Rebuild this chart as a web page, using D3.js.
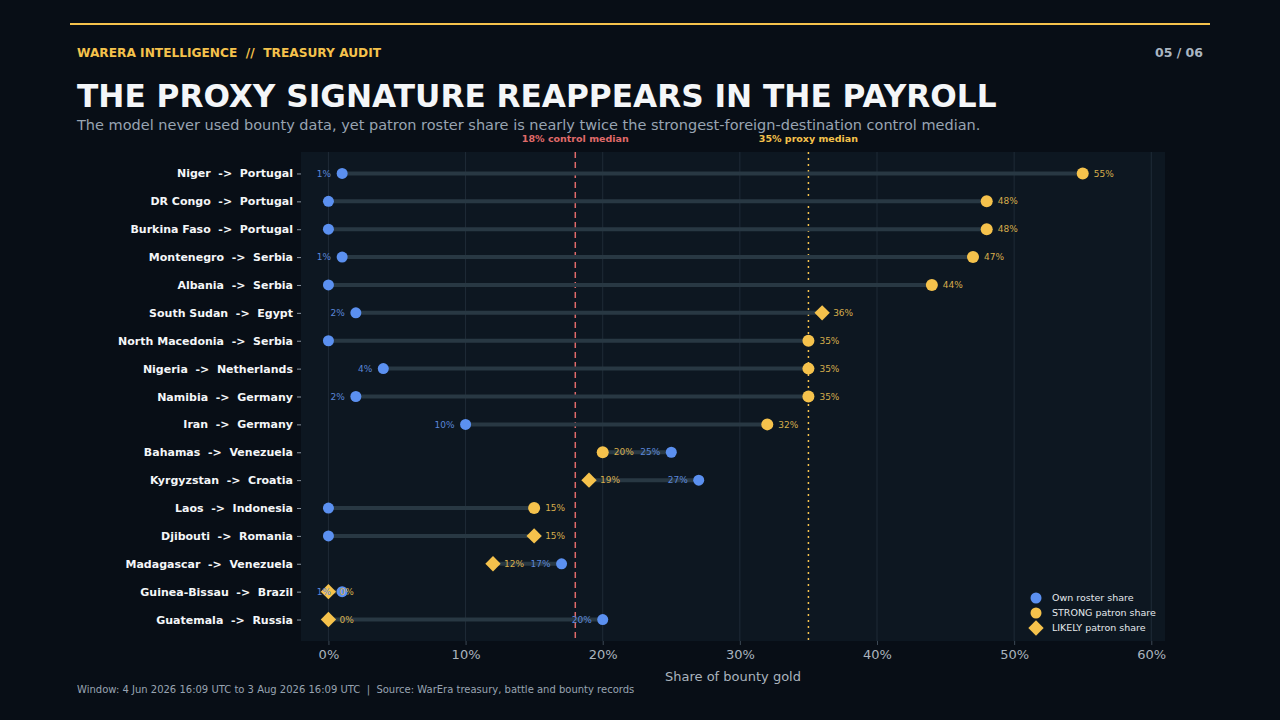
<!DOCTYPE html>
<html>
<head>
<meta charset="utf-8">
<script src="https://cdn.jsdelivr.net/npm/d3@7"></script>
<style>
  body { margin: 0; background: #080e16; }
  svg text { font-family: "DejaVu Sans", sans-serif; white-space: pre; }
</style>
</head>
<body>
<svg id="chart" width="1280" height="720"></svg>
<script>
/* data */
var routes = ["Niger  ->  Portugal", "DR Congo  ->  Portugal", "Burkina Faso  ->  Portugal",
  "Montenegro  ->  Serbia", "Albania  ->  Serbia", "South Sudan  ->  Egypt",
  "North Macedonia  ->  Serbia", "Nigeria  ->  Netherlands", "Namibia  ->  Germany",
  "Iran  ->  Germany", "Bahamas  ->  Venezuela", "Kyrgyzstan  ->  Croatia",
  "Laos  ->  Indonesia", "Djibouti  ->  Romania", "Madagascar  ->  Venezuela",
  "Guinea-Bissau  ->  Brazil", "Guatemala  ->  Russia"];
var ownShare = [1, 0, 0, 1, 0, 2, 0, 4, 2, 10, 25, 27, 0, 0, 17, 1, 20];
var patronShare = [55, 48, 48, 47, 44, 36, 35, 35, 35, 32, 20, 19, 15, 15, 12, 0, 0];
var patronType = ["STRONG", "STRONG", "STRONG", "STRONG", "STRONG", "LIKELY",
  "STRONG", "STRONG", "STRONG", "STRONG", "STRONG", "LIKELY",
  "STRONG", "LIKELY", "LIKELY", "LIKELY", "LIKELY"];
var xTicks = [0, 10, 20, 30, 40, 50, 60];
var controlMedian = 18, proxyMedian = 35;

var rows = routes.map(function(r, i){
  return { route: r, own: ownShare[i], patron: patronShare[i], type: patronType[i] };
});

var blue = "#5b90f0", gold = "#f5c24c", red = "#e06a6a";

var svg = d3.select("#chart");
var margin = { top: 152, left: 301, right: 115, bottom: 79 };
var W = 1280, H = 720;
var innerW = W - margin.left - margin.right, innerH = H - margin.top - margin.bottom;

/* header */
svg.append("line").attr("x1", 70).attr("x2", 1210).attr("y1", 24).attr("y2", 24)
  .attr("stroke", gold).attr("stroke-width", 2);
svg.append("text").attr("x", 77).attr("y", 57).attr("fill", gold)
  .attr("font-size", 12.2).attr("font-weight", "bold")
  .text("WARERA INTELLIGENCE  //  TREASURY AUDIT");
svg.append("text").attr("x", 1203).attr("y", 57).attr("fill", "#aab6c2")
  .attr("font-size", 12.5).attr("font-weight", "bold").attr("text-anchor", "end")
  .text("05 / 06");
svg.append("text").attr("x", 77).attr("y", 107).attr("fill", "#f4f6f8")
  .attr("font-size", 31.2).attr("font-weight", "bold")
  .text("THE PROXY SIGNATURE REAPPEARS IN THE PAYROLL");
svg.append("text").attr("x", 77).attr("y", 130).attr("fill", "#98a4b2")
  .attr("font-size", 14.5)
  .text("The model never used bounty data, yet patron roster share is nearly twice the strongest-foreign-destination control median.");

/* plot group */
var g = svg.append("g").attr("transform", "translate(" + margin.left + "," + margin.top + ")");
g.append("rect").attr("width", innerW).attr("height", innerH).attr("fill", "#0d1721");

var x = d3.scaleLinear().domain([-2, 61]).range([0, innerW]);
var y = d3.scalePoint().domain(routes).range([0, innerH]).padding(0.77);

/* vertical grid */
g.selectAll(".grid").data(xTicks).enter().append("line")
  .attr("x1", function(d){ return x(d); }).attr("x2", function(d){ return x(d); })
  .attr("y1", 0).attr("y2", innerH)
  .attr("stroke", "#1f2b37").attr("stroke-width", 1);

/* x axis */
var xAxis = d3.axisBottom(x).tickValues(xTicks).tickSize(4)
  .tickFormat(function(d){ return d + "%"; });
var xAxisG = g.append("g").attr("transform", "translate(0," + innerH + ")").call(xAxis);
xAxisG.select(".domain").remove();
xAxisG.selectAll("line").attr("stroke", "#3c4854");
xAxisG.selectAll("text").attr("fill", "#aab4be").attr("font-size", 13).attr("dy", "0.82em")
  .style("font-family", "DejaVu Sans, sans-serif");
g.append("text").attr("x", x(29.5)).attr("y", innerH + 40).attr("text-anchor", "middle")
  .attr("fill", "#aab4be").attr("font-size", 13).text("Share of bounty gold");

/* y axis */
var yAxis = d3.axisLeft(y).tickSize(4).tickPadding(4);
var yAxisG = g.append("g").call(yAxis);
yAxisG.select(".domain").remove();
yAxisG.selectAll("line").attr("stroke", "#8a96a2");
yAxisG.selectAll("text").attr("fill", "#f4f6f8").attr("font-size", 11).attr("font-weight", "bold")
  .style("font-family", "DejaVu Sans, sans-serif");

/* medians */
g.append("line").attr("x1", x(controlMedian)).attr("x2", x(controlMedian))
  .attr("y1", 0).attr("y2", innerH)
  .attr("stroke", red).attr("stroke-width", 1.5).attr("stroke-dasharray", "6,4");
g.append("line").attr("x1", x(proxyMedian)).attr("x2", x(proxyMedian))
  .attr("y1", 0).attr("y2", innerH)
  .attr("stroke", gold).attr("stroke-width", 1.5).attr("stroke-dasharray", "2,4");
g.append("text").attr("x", x(controlMedian)).attr("y", -10).attr("text-anchor", "middle")
  .attr("fill", red).attr("font-size", 9.5).attr("font-weight", "bold")
  .text(controlMedian + "% control median");
g.append("text").attr("x", x(proxyMedian)).attr("y", -10).attr("text-anchor", "middle")
  .attr("fill", gold).attr("font-size", 9.5).attr("font-weight", "bold")
  .text(proxyMedian + "% proxy median");

/* segments */
g.selectAll(".seg").data(rows).enter().append("line")
  .attr("x1", function(d){ return x(d.own); }).attr("x2", function(d){ return x(d.patron); })
  .attr("y1", function(d){ return y(d.route); }).attr("y2", function(d){ return y(d.route); })
  .attr("stroke", "#283843").attr("stroke-width", 4);

/* own dots */
g.selectAll(".own").data(rows).enter().append("circle")
  .attr("cx", function(d){ return x(d.own); }).attr("cy", function(d){ return y(d.route); })
  .attr("r", 5.5).attr("fill", blue);

/* patron markers */
var diamond = d3.symbol().type(d3.symbolDiamond2).size(150);
g.selectAll(".patron").data(rows).enter().each(function(d){
  var sel = d3.select(this);
  if (d.type === "STRONG") {
    sel.append("circle").attr("cx", x(d.patron)).attr("cy", y(d.route))
      .attr("r", 6).attr("fill", gold);
  } else {
    sel.append("path").attr("d", diamond)
      .attr("transform", "translate(" + x(d.patron) + "," + y(d.route) + ")")
      .attr("fill", gold);
  }
});

/* value labels */
g.selectAll(".ownLabel").data(rows.filter(function(d){ return d.own > 0; })).enter().append("text")
  .attr("x", function(d){ return x(d.own) - 11; }).attr("y", function(d){ return y(d.route); })
  .attr("dy", "0.35em").attr("text-anchor", "end")
  .attr("fill", "#5a86d8").attr("font-size", 9)
  .text(function(d){ return d.own + "%"; });
g.selectAll(".patronLabel").data(rows).enter().append("text")
  .attr("x", function(d){ return x(d.patron) + 11; }).attr("y", function(d){ return y(d.route); })
  .attr("dy", "0.35em")
  .attr("fill", "#d6ad4c").attr("font-size", 9)
  .text(function(d){ return d.patron + "%"; });

/* legend */
var legend = [
  { label: "Own roster share", color: blue, shape: "circle" },
  { label: "STRONG patron share", color: gold, shape: "circle" },
  { label: "LIKELY patron share", color: gold, shape: "diamond" }
];
var lg = g.append("g").attr("transform", "translate(" + (1036 - margin.left) + "," + (598 - margin.top) + ")");
legend.forEach(function(l, i){
  if (l.shape === "circle") {
    lg.append("circle").attr("cx", 0).attr("cy", i * 15).attr("r", 5.5).attr("fill", l.color);
  } else {
    lg.append("path").attr("d", diamond).attr("transform", "translate(0," + i * 15 + ")").attr("fill", l.color);
  }
  lg.append("text").attr("x", 16).attr("y", i * 15).attr("dy", "0.35em")
    .attr("fill", "#e4e8ec").attr("font-size", 9.5).text(l.label);
});

/* footer */
svg.append("text").attr("x", 77).attr("y", 693).attr("fill", "#98a4b2").attr("font-size", 10)
  .text("Window: 4 Jun 2026 16:09 UTC to 3 Aug 2026 16:09 UTC  |  Source: WarEra treasury, battle and bounty records");
</script>
</body>
</html>
